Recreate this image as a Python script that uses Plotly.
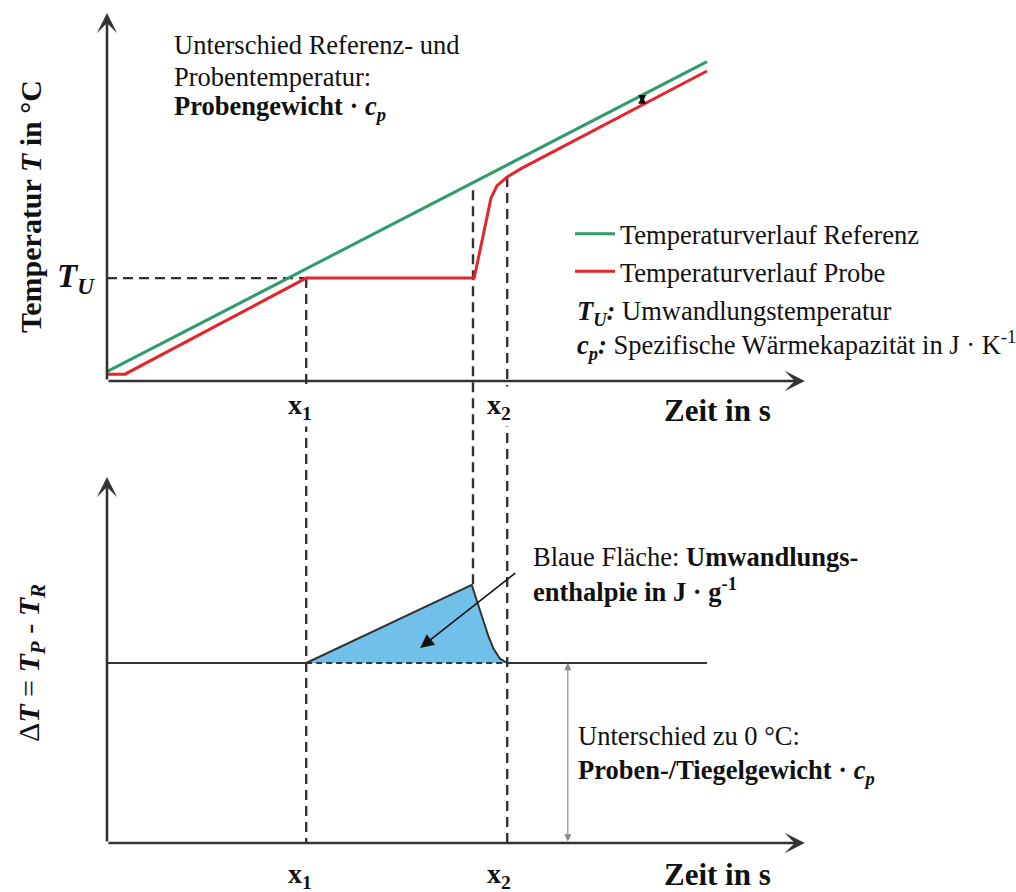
import numpy as np
import plotly.graph_objects as go

# ---------------- data (schematic units) ----------------
time_ref = [0.0, 10.0]
temp_ref = [0.30, 10.30]
time_probe = [0.0, 0.30, 3.32, 6.12, 6.40, 6.50, 6.67, 6.90, 10.0]
temp_probe = [0.22, 0.22, 3.32, 3.32, 5.90, 6.30, 6.58, 6.85, 10.0]
T_U = 3.32
x1 = 3.32
x_peak = 6.10
x2 = 6.67
time_dsc = [3.32, 6.08, 6.16, 6.27, 6.36, 6.44, 6.55, 6.67]
delta_dsc = [5.00, 7.17, 6.75, 6.19, 5.73, 5.40, 5.12, 5.00]
baseline = 5.0
t_end = 10.0
tick_labels = ["<b>x<sub>1</sub></b>", "<b>x<sub>2</sub></b>"]

# ---------------- layout geometry ----------------
W, H = 1016, 892
FONT = "Liberation Serif"
x_range = [-107 / 60, (W - 107) / 60]
T_range = [(381 - H) / 31, 381 / 31]
D_range = [(843 - H) / 36, 843 / 36]
axis_t_max, axis_T_max, axis_D_max = 11.63, 11.87, 10.17


def d2t(d):
    """Convert a value on the lower (Delta T) axis to the upper (T) axis scale."""
    return T_range[0] + (d - D_range[0]) / (D_range[1] - D_range[0]) * (T_range[1] - T_range[0])


def px(xp):
    return xp / W


def py(yp):
    return 1 - yp / H


GREEN = "#2f9c6c"
RED = "#e3262b"
BLUE = "#70c0ea"
DARK = "#333333"
DASH = "10px,6px"
TXT = 26.5

fig = go.Figure()

# blue area
fig.add_trace(go.Scatter(x=time_dsc, y=delta_dsc, yaxis="y2", fill="toself", fillcolor=BLUE,
                         mode="lines", line=dict(width=0), showlegend=False, hoverinfo="skip"))
fig.add_trace(go.Scatter(x=time_dsc, y=delta_dsc, yaxis="y2", mode="lines",
                         line=dict(color=DARK, width=2), showlegend=False, hoverinfo="skip"))
# baseline
fig.add_trace(go.Scatter(x=[0, x1], y=[baseline, baseline], yaxis="y2", mode="lines",
                         line=dict(color=DARK, width=2), showlegend=False, hoverinfo="skip"))
fig.add_trace(go.Scatter(x=[x1, x2], y=[baseline, baseline], yaxis="y2", mode="lines",
                         line=dict(color=DARK, width=1.8, dash="6px,4px"), showlegend=False, hoverinfo="skip"))
fig.add_trace(go.Scatter(x=[x2, t_end], y=[baseline, baseline], yaxis="y2", mode="lines",
                         line=dict(color=DARK, width=2), showlegend=False, hoverinfo="skip"))

# dashed guide lines
fig.add_trace(go.Scatter(x=[0, x1], y=[T_U, T_U], mode="lines",
                         line=dict(color=DARK, width=2.4, dash=DASH), showlegend=False, hoverinfo="skip"))
peak_top = float(np.interp(x_peak, time_ref, temp_ref)) - 0.25
x2_top = float(np.interp(x2, time_probe, temp_probe))
for xv, ytop, ybot in [(x1, T_U, d2t(0)),
                       (x_peak, peak_top, d2t(max(delta_dsc))),
                       (x2, x2_top, d2t(0))]:
    fig.add_trace(go.Scatter(x=[xv, xv], y=[ytop, ybot], mode="lines",
                             line=dict(color=DARK, width=2.4, dash=DASH), showlegend=False, hoverinfo="skip"))

# temperature curves
fig.add_trace(go.Scatter(x=time_probe, y=temp_probe, mode="lines", name="Temperaturverlauf Probe",
                         line=dict(color=RED, width=3), legendgroup="b", legendrank=2))
fig.add_trace(go.Scatter(x=time_ref, y=temp_ref, mode="lines", name="Temperaturverlauf Referenz",
                         line=dict(color=GREEN, width=3), legendgroup="a", legendrank=1))

ann = []
# axes with arrows
for (tx, ty, yr) in [(axis_t_max, 0, "y"), (0, axis_T_max, "y"), (axis_t_max, 0, "y2"), (0, axis_D_max, "y2")]:
    ann.append(dict(x=tx, y=ty, xref="x", yref=yr, ax=0, ay=0, axref="x", ayref=yr, text="",
                    showarrow=True, arrowhead=3, arrowsize=1.3, arrowwidth=2.6, arrowcolor=DARK))

# small difference arrow between curves
t_small = 8.92
ann.append(dict(x=t_small, y=float(np.interp(t_small, time_ref, temp_ref)) - 0.02, xref="x", yref="y",
                ax=t_small, ay=float(np.interp(t_small, time_probe, temp_probe)) + 0.02, axref="x", ayref="y",
                text="", showarrow=True, arrowhead=2, arrowside="end+start", arrowsize=1.0,
                arrowwidth=1.6, arrowcolor="#111111"))
# thin offset arrow in lower panel
t_off = 7.68
ann.append(dict(x=t_off, y=baseline, xref="x", yref="y2", ax=t_off, ay=0, axref="x", ayref="y2",
                text="", showarrow=True, arrowhead=2, arrowside="end+start", arrowsize=1.2,
                arrowwidth=1.2, arrowcolor="#8a8a8a"))
# pointer arrow into blue area
ann.append(dict(x=5.22, y=5.42, xref="x", yref="y2", ax=6.83, ay=7.53, axref="x", ayref="y2",
                text="", showarrow=True, arrowhead=2, arrowsize=1.7, arrowwidth=1.6, arrowcolor="#111111"))

# x tick labels
for xv, lab, sh in [(x1, tick_labels[0], -6), (x2, tick_labels[1], -8)]:
    for ypx in (407, 875):
        ann.append(dict(x=xv, xref="x", y=py(ypx), yref="paper", text=lab, showarrow=False,
                        xanchor="center", yanchor="middle",
                        xshift=sh, font=dict(family=FONT, size=28, color="#111"),
                        bgcolor="white", borderpad=2))

# axis titles
for ypx in (411, 874):
    ann.append(dict(x=px(717), y=py(ypx), xref="paper", yref="paper", text="<b>Zeit in s</b>",
                    xanchor="center", yanchor="middle",
                    showarrow=False, font=dict(family=FONT, size=31, color="#111")))
ann.append(dict(x=px(31), y=py(207), xref="paper", yref="paper", textangle=-90,
                xanchor="center", yanchor="middle",
                text="<b>Temperatur <i>T</i> in °C</b>", showarrow=False,
                font=dict(family=FONT, size=30, color="#111")))
ann.append(dict(x=px(31), y=py(663), xref="paper", yref="paper", textangle=-90,
                xanchor="center", yanchor="middle",
                text="Δ<b><i>T</i></b> = <b><i>T<sub>P</sub></i></b> - <b><i>T<sub>R</sub></i></b>",
                showarrow=False, font=dict(family=FONT, size=30, color="#111")))
ann.append(dict(x=px(97), y=T_U, xref="paper", yref="y", xanchor="right", yanchor="middle",
                text="<b><i>T<sub>U</sub></i></b>", showarrow=False,
                font=dict(family=FONT, size=33, color="#111")))

# text blocks
lines = [
    ("Unterschied Referenz- und", 172, 45),
    ("Probentemperatur:", 172, 77),
    ("<b>Probengewicht · <i>c<sub>p</sub></i></b>", 172, 108),
    ("<b><i>T<sub>U</sub>:</i></b> Umwandlungstemperatur", 575, 313),
    ("<b><i>c<sub>p</sub>:</i></b> Spezifische Wärmekapazität in J · K<sup>-1</sup>", 575, 345),
    ("Blaue Fläche: <b>Umwandlungs-</b>", 531, 557),
    ("<b>enthalpie in J · g<sup>-1</sup></b>", 531, 590),
    ("Unterschied zu 0 °C:", 576, 736),
    ("<b>Proben-/Tiegelgewicht · <i>c<sub>p</sub></i></b>", 576, 772),
]
for txt, xp, yp in lines:
    ann.append(dict(x=px(xp), y=py(yp), xref="paper", yref="paper", xanchor="left", yanchor="middle",
                    text=txt, showarrow=False, font=dict(family=FONT, size=TXT, color="#111")))

fig.update_layout(
    width=W, height=H, margin=dict(l=0, r=0, t=0, b=0, pad=0),
    paper_bgcolor="white", plot_bgcolor="white",
    xaxis=dict(range=x_range, visible=False, fixedrange=True),
    yaxis=dict(range=T_range, visible=False, fixedrange=True),
    yaxis2=dict(range=D_range, visible=False, overlaying="y", fixedrange=True),
    showlegend=True,
    legend=dict(x=px(570), y=py(210), xanchor="left", yanchor="top", bgcolor="rgba(0,0,0,0)",
                font=dict(family=FONT, size=TXT, color="#111"), tracegroupgap=0, itemwidth=40,
                traceorder="grouped"),
    annotations=ann,
)

fig.write_html("out.html")
